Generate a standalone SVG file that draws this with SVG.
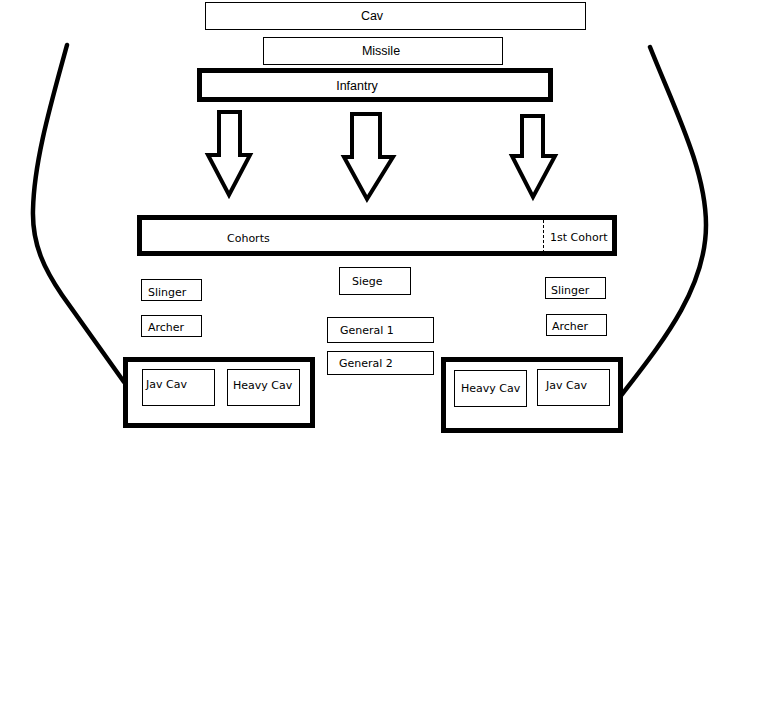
<svg xmlns="http://www.w3.org/2000/svg" width="777" height="720" viewBox="0 0 777 720">
<style>
.thin{fill:#fff;stroke:#000;stroke-width:1}
.thick{fill:#fff;stroke:#000;stroke-width:5}
.arrow{fill:#fff;stroke:#000;stroke-width:4;stroke-linejoin:miter}
.curve{fill:none;stroke:#000;stroke-width:4.5;stroke-linecap:round}
.ta{font-family:"Liberation Sans",Arial,sans-serif;font-size:12.5px;fill:#000}
.tt{font-family:"DejaVu Sans",Verdana,sans-serif;font-size:11px;fill:#000}
</style>
<rect width="777" height="720" fill="#fff"/>
<g id="connectors">
<path class="curve" d="M67,45 C52,100 34,160 33,210 C32,245 45,270 62,295 L124,382"/>
<path class="curve" d="M650,47 C675,110 706,170 706,225 C706,290 660,345 620,397"/>
<polygon class="arrow" points="219,112 240,112 240,155 250,155 229,195 208,155 219,155"/>
<polygon class="arrow" points="352,114 380,114 380,157 393,157 367,199 344,157 352,157"/>
<polygon class="arrow" points="522,116 543,116 543,156 555,156 533,197 512,156 522,156"/>
</g>
<g id="cav"><rect class="thin" x="205.5" y="2.5" width="380" height="27"/><text class="ta" x="372" y="20" text-anchor="middle">Cav</text></g>
<g id="missile"><rect class="thin" x="263.5" y="37.5" width="239" height="27"/><text class="ta" x="381" y="55" text-anchor="middle">Missile</text></g>
<g id="infantry"><rect class="thick" x="199.5" y="70.5" width="351" height="29"/><text class="ta" x="357" y="90" text-anchor="middle">Infantry</text></g>
<g id="cohorts"><rect class="thick" x="139.5" y="217.5" width="475" height="36"/>
<line x1="543.5" y1="220" x2="543.5" y2="251" stroke="#000" stroke-width="1" stroke-dasharray="3,2"/>
<text class="tt" x="227" y="242">Cohorts</text><text class="tt" x="550" y="241">1st Cohort</text></g>
<g id="slinger-left"><rect class="thin" x="141.5" y="279.5" width="60" height="21"/><text class="tt" x="148" y="296">Slinger</text></g>
<g id="archer-left"><rect class="thin" x="141.5" y="315.5" width="60" height="21"/><text class="tt" x="148" y="331">Archer</text></g>
<g id="siege"><rect class="thin" x="339.5" y="267.5" width="71" height="27"/><text class="tt" x="352" y="285">Siege</text></g>
<g id="general1"><rect class="thin" x="327.5" y="317.5" width="106" height="25"/><text class="tt" x="340" y="334">General 1</text></g>
<g id="general2"><rect class="thin" x="327.5" y="351.5" width="106" height="23"/><text class="tt" x="339" y="367">General 2</text></g>
<g id="slinger-right"><rect class="thin" x="545.5" y="277.5" width="60" height="21"/><text class="tt" x="551" y="294">Slinger</text></g>
<g id="archer-right"><rect class="thin" x="546.5" y="314.5" width="60" height="21"/><text class="tt" x="552" y="330">Archer</text></g>
<g id="cav-left"><rect class="thick" x="125.5" y="359.5" width="187" height="66"/>
<g id="javcav-left"><rect class="thin" x="142.5" y="369.5" width="72" height="36"/><text class="tt" x="146" y="388">Jav Cav</text></g>
<g id="heavycav-left"><rect class="thin" x="227.5" y="369.5" width="72" height="36"/><text class="tt" x="233" y="389">Heavy Cav</text></g>
</g>
<g id="cav-right"><rect class="thick" x="443.5" y="359.5" width="177" height="71"/>
<g id="heavycav-right"><rect class="thin" x="454.5" y="370.5" width="72" height="36"/><text class="tt" x="461" y="392">Heavy Cav</text></g>
<g id="javcav-right"><rect class="thin" x="537.5" y="369.5" width="72" height="36"/><text class="tt" x="546" y="389">Jav Cav</text></g>
</g>
</svg>
